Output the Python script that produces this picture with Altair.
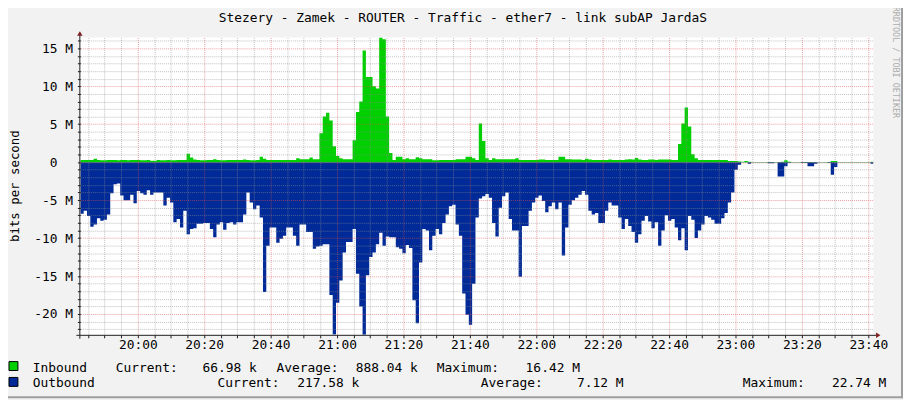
import altair as alt
import pandas as pd

# ---------------- data (Mbit/s, one sample per minute) ----------------
inbound = [
    0.3, 0.3, 0.3, 0.3, 0.45, 0.3, 0.25, 0.25, 0.3, 0.3,
    0.3, 0.25, 0.3, 0.3, 0.25, 0.3, 0.3, 0.3, 0.25, 0.25,
    0.3, 0.2, 0.2, 0.3, 0.25, 0.25, 0.3, 0.25, 0.25, 0.3,
    0.3, 0.3, 1.1, 0.6, 0.35, 0.3, 0.25, 0.25, 0.3, 0.3,
    0.4, 0.3, 0.25, 0.25, 0.3, 0.3, 0.3, 0.3, 0.3, 0.35,
    0.3, 0.25, 0.25, 0.3, 0.7, 0.45, 0.3, 0.3, 0.3, 0.3,
    0.3, 0.3, 0.3, 0.3, 0.3, 0.5, 0.4, 0.4, 0.4, 0.6,
    0.4, 0.4, 3.8, 6.0, 6.5, 5.5, 2.1, 0.8, 0.5, 0.4,
    0.4, 0.4, 2.9, 6.6, 8.0, 14.7, 11.2, 11.2, 10.0, 9.7,
    16.42, 16.2, 6.0, 1.2, 0.3, 0.7, 0.7, 0.4, 0.5, 0.4,
    0.4, 0.65, 0.5, 0.4, 0.4, 0.4, 0.25, 0.25, 0.3, 0.3,
    0.3, 0.3, 0.3, 0.4, 0.4, 0.4, 0.7, 0.7, 0.5, 0.3,
    5.1, 2.8, 0.5, 0.3, 0.5, 0.4, 0.4, 0.4, 0.4, 0.4,
    0.4, 0.5, 0.3, 0.3, 0.3, 0.3, 0.3, 0.3, 0.35, 0.35,
    0.3, 0.3, 0.3, 0.3, 0.7, 0.7, 0.4, 0.4, 0.35, 0.35,
    0.35, 0.3, 0.45, 0.35, 0.3, 0.3, 0.3, 0.3, 0.3, 0.35,
    0.3, 0.3, 0.3, 0.3, 0.35, 0.4, 0.35, 0.55, 0.35, 0.3,
    0.3, 0.35, 0.35, 0.3, 0.35, 0.35, 0.35, 0.35, 0.3, 0.3,
    2.4, 5.1, 7.2, 4.7, 1.05, 0.5, 0.3, 0.3, 0.3, 0.3,
    0.3, 0.3, 0.3, 0.3, 0.3, 0.15, 0.15, 0.15, 0.1, 0.05,
    0.15, 0.05, 0.02, 0.02, 0.02, 0.02, 0.02, 0.02, 0.02, 0.02,
    0.02, 0.05, 0.25, 0.05, 0.02, 0.02, 0.02, 0.02, 0.02, 0.02,
    0.02, 0.02, 0.02, 0.02, 0.02, 0.02, 0.15, 0.15, 0.02, 0.02,
    0.02, 0.02, 0.02, 0.02, 0.02, 0.02, 0.02, 0.02, 0.07,
]
outbound = [
    6.8, 6.4, 7.1, 8.5, 8.2, 7.4, 7.7, 7.6, 6.9, 4.1,
    2.9, 2.8, 4.4, 5.0, 5.0, 4.3, 5.4, 3.8, 4.1, 4.3,
    3.7, 4.3, 4.0, 4.0, 4.0, 5.7, 4.7, 5.3, 7.9, 7.5,
    8.6, 6.4, 9.5, 8.8, 8.7, 8.1, 8.1, 8.0, 8.0, 8.8,
    9.9, 8.2, 7.9, 8.9, 8.0, 7.9, 8.2, 7.9, 7.9, 6.9,
    4.0, 5.3, 6.2, 5.7, 7.3, 17.1, 11.0, 8.6, 8.6, 10.6,
    10.1, 9.7, 8.6, 8.6, 9.7, 11.0, 8.2, 8.2, 9.2, 9.2,
    11.4, 11.1, 11.0, 10.8, 10.8, 17.5, 22.7, 18.5, 15.6, 11.9,
    10.5, 10.5, 8.8, 14.7, 19.0, 22.74, 14.9, 12.5, 11.9, 10.8,
    9.3, 11.0, 9.8, 9.9, 9.9, 11.2, 11.4, 12.0, 10.9, 11.3,
    18.2, 21.2, 13.2, 8.8, 9.0, 11.6, 9.7, 8.8, 9.5, 8.0,
    6.9, 5.8, 5.6, 8.2, 9.7, 17.3, 20.1, 21.4, 16.0, 7.3,
    4.8, 4.5, 4.2, 4.7, 8.0, 9.8, 6.0, 4.5, 4.0, 7.5,
    9.0, 9.0, 15.1, 8.4, 8.4, 6.4, 5.3, 4.7, 4.4, 5.1,
    6.6, 5.8, 5.3, 6.2, 5.3, 12.3, 8.6, 5.6, 5.0, 4.7,
    4.3, 3.8, 4.3, 6.4, 6.9, 6.7, 8.0, 8.0, 6.4, 5.3,
    5.7, 5.7, 7.3, 8.8, 7.5, 8.4, 9.2, 10.6, 9.5, 7.7,
    7.1, 7.8, 8.7, 7.9, 11.0, 9.0, 7.0, 7.7, 7.5, 8.6,
    10.3, 8.7, 11.6, 7.1, 7.6, 10.0, 9.0, 8.2, 7.1, 7.3,
    7.6, 8.1, 8.1, 7.4, 6.7, 5.3, 4.0, 1.0, 0.35, 0.05,
    0.05, 0.2, 0.05, 0.05, 0.05, 0.05, 0.05, 0.15, 0.15, 0.05,
    1.9, 1.9, 0.55, 0.1, 0.03, 0.03, 0.03, 0.1, 0.1, 0.55,
    0.55, 0.2, 0.03, 0.03, 0.03, 0.1, 1.65, 0.65, 0.03, 0.03,
    0.03, 0.03, 0.03, 0.03, 0.03, 0.03, 0.03, 0.03, 0.22,
]
first_sample_min = -17.31          # minutes relative to 20:00
domain_min, domain_max = -17.31, 221.5
y_min, y_max = -22.74, 16.42

x_tick_labels = ["20:00", "20:20", "20:40", "21:00", "21:20", "21:40",
                 "22:00", "22:20", "22:40", "23:00", "23:20", "23:40"]
y_tick_labels = ["-20 M", "-15 M", "-10 M", "-5 M", "0",
                 "5 M", "10 M", "15 M"]

title_text = "Stezery - Zamek - ROUTER - Traffic - ether7 - link subAP JardaS"
y_title = "bits per second"
watermark = "RRDTOOL / TOBI OETIKER"
series_names = ["Inbound", "Outbound"]
stat_names = ["Current:", "Average:", "Maximum:"]
inbound_stats = ["66.98 k", "888.04 k", "16.42 M"]
outbound_stats = ["217.58 k", "7.12 M", "22.74 M"]

# ---------------- styles ----------------
GREEN = "#00CF00"
BLUE = "#002A97"
BACK = "#F2F2F2"
AXIS_C = "#1F1F1F"
ARROW_C = "#801F1F"
MINOR = "rgba(143,143,143,0.55)"
MAJOR = "rgba(222,79,79,0.55)"
FONT = "DejaVu Sans Mono"
FS = 13

n = len(inbound)
t = [first_sample_min + i for i in range(n)] + [first_sample_min + n]
df = pd.DataFrame({
    "t": t,
    "inb": inbound + [inbound[-1]],
    "outb": [-v for v in outbound] + [-outbound[-1]],
    "zero": [0.0] * (n + 1),
})

x_vals = list(range(-15, 221, 5))
y_vals = list(range(-22, 17, 1))
x_label_expr = ("datum.value % 20 === 0 && datum.value >= 0 ? "
                + str(x_tick_labels) + "[datum.value / 20] : ''")
y_label_expr = ("datum.value % 5 === 0 ? "
                + str(y_tick_labels) + "[(datum.value + 20) / 5] : ''")

x_axis = alt.Axis(
    values=x_vals, labelExpr=x_label_expr, title=None, domain=False,
    grid=True, gridDash=[1, 1], gridWidth=1,
    gridColor={"condition": {"test": "datum.value % 20 === 0", "value": MAJOR}, "value": MINOR},
    ticks=True, tickSize=3, tickColor=AXIS_C,
    labelFont=FONT, labelFontSize=FS, labelColor="#000000", labelPadding=1,
    labelOverlap=False, labelFlush=False, labelBound=False, zindex=1,
)
y_axis = alt.Axis(
    values=y_vals, labelExpr=y_label_expr, title=None, domain=False,
    grid=True, gridDash=[1, 1], gridWidth=1,
    gridColor={"condition": {"test": "datum.value % 5 === 0", "value": MAJOR}, "value": MINOR},
    ticks=True, tickSize=3, tickColor=AXIS_C,
    labelFont=FONT, labelFontSize=FS, labelColor="#000000",
    labelPadding={"condition": {"test": "datum.value === 0", "value": 20.6}, "value": 5},
    labelOverlap=False, labelFlush=False, labelBound=False, zindex=1,
)

xs = alt.Scale(domain=[domain_min, domain_max], nice=False, zero=False)
ys = alt.Scale(domain=[y_min, y_max], nice=False, zero=False)

base = alt.Chart(df)
out_area = base.mark_area(interpolate="step-after", color=BLUE, clip=True).encode(
    x=alt.X("t:Q", scale=xs, axis=x_axis),
    y=alt.Y("outb:Q", scale=ys, axis=y_axis),
    y2="zero:Q",
)
in_area = base.mark_area(interpolate="step-after", color=GREEN, clip=True).encode(
    x=alt.X("t:Q", scale=xs, axis=x_axis),
    y=alt.Y("inb:Q", scale=ys, axis=y_axis),
    y2="zero:Q",
)

one = alt.Data(values=[{}])


def hrule(x1, x2, y, color, w=1):
    return alt.Chart(one).mark_rule(color=color, strokeWidth=w).encode(
        x=alt.value(x1), x2=alt.value(x2), y=alt.value(y))


def vrule(x, y1, y2, color, w=1):
    return alt.Chart(one).mark_rule(color=color, strokeWidth=w).encode(
        x=alt.value(x), y=alt.value(y1), y2=alt.value(y2))


def text(s, x, y, align="left", size=FS, color="#000000", angle=0, baseline="alphabetic"):
    return alt.Chart(one).mark_text(
        text=s.replace(" ", "\u00a0"), font=FONT, fontSize=size, color=color,
        align=align, baseline=baseline, angle=angle,
    ).encode(x=alt.value(x), y=alt.value(y))


def box(x1, x2, y1, y2, fill, stroke=None):
    kw = dict(fill=fill)
    if stroke:
        kw.update(stroke=stroke, strokeWidth=1)
    return alt.Chart(one).mark_rect(**kw).encode(
        x=alt.value(x1), x2=alt.value(x2), y=alt.value(y1), y2=alt.value(y2))


decor = [
    # axes lines
    vrule(-0.5, -3, 304, AXIS_C),
    hrule(-4, 803, 300.5, AXIS_C),
    alt.Chart(one).mark_point(shape="M-1,0.8L1,0.8L0,-0.8Z", filled=True, size=30,
                              color=ARROW_C, opacity=1).encode(
        x=alt.value(-0.5), y=alt.value(-4)),
    alt.Chart(one).mark_point(shape="M-0.8,-1L-0.8,1L0.8,0Z", filled=True, size=30,
                              color=ARROW_C, opacity=1).encode(
        x=alt.value(805), y=alt.value(300.5)),
    # frame shade (right / bottom)
    box(828, 830, -36, 364, "#9E9E9E"),
    box(-81, 830, 362, 364, "#9E9E9E"),
    # texts
    text(title_text, 386, -16, align="center"),
    text(y_title, -62, 150, align="center", angle=270, size=12.5),
    text(watermark, 819.5, -31, size=8.5, color="#ADADAD", angle=90),
    # legend boxes
    box(-72, -63, 327, 336, GREEN, "#000000"),
    box(-72, -63, 343, 352, BLUE, "#000000"),
    text(series_names[0], -48, 337),
    text(series_names[1], -48, 352.5),
]

# legend statistics: label start x and value end x (plot coordinates)
row1_lab = [35.7, 198, 359.7]
row1_end = [178, 340.5, 504]
row2_lab = [138.3, 404, 668.3]
row2_end = [281.5, 548, 813]
for i in range(3):
    decor.append(text(stat_names[i], row1_lab[i], 337))
    decor.append(text(inbound_stats[i], row1_end[i], 337, align="right"))
    decor.append(text(stat_names[i], row2_lab[i], 352.5))
    decor.append(text(outbound_stats[i], row2_end[i], 352.5, align="right"))

chart = alt.layer(out_area, in_area, *decor).properties(
    width=800, height=300,
    padding={"left": 73, "top": 28, "right": 30, "bottom": 64},
    autosize=alt.AutoSizeParams(type="none"),
    background=BACK,
).configure_view(fill="#FFFFFF", stroke=None)

chart.save("out.html", embed_options={"renderer": "svg", "actions": False})
